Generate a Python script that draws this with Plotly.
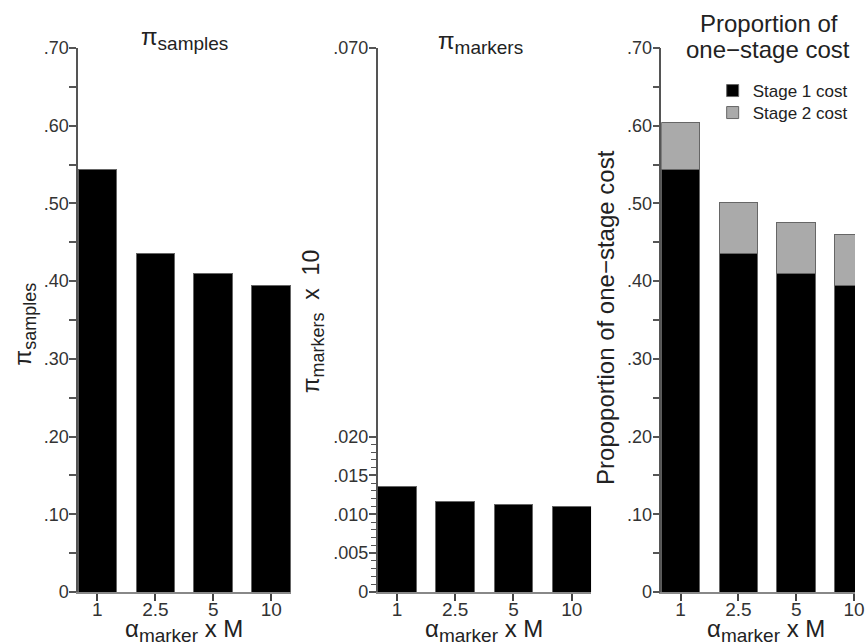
import plotly.graph_objects as go

# ---------------- data ----------------
categories = ["1", "2.5", "5", "10"]
pi_samples = [0.544, 0.436, 0.410, 0.395]
pi_markers = [0.0136, 0.0117, 0.0112, 0.0110]
stage1_cost = [0.544, 0.436, 0.410, 0.395]
stage2_cost = [0.060, 0.065, 0.065, 0.065]

prop_ticks = [0, 0.1, 0.2, 0.3, 0.4, 0.5, 0.6, 0.7]
prop_ticktext = ["0", ".10", ".20", ".30", ".40", ".50", ".60", ".70"]
prop_minor = [0.05, 0.15, 0.25, 0.35, 0.45, 0.55, 0.65]
mark_ticks = [0, 0.005, 0.010, 0.015, 0.020, 0.070]
mark_ticktext = ["0", ".005", ".010", ".015", ".020", ".070"]
mark_minor = [i / 1000 for i in range(1, 21) if i % 5 != 0]

# ---------------- layout helpers ----------------
W, H = 865, 644
ML, MR, MT, MB = 0, 0, 48, 52
FONT = "Liberation Sans, Arial, sans-serif"
TXT = "#222222"


def px(x):
    return (x) / (W - ML - MR)


def py(y):
    return (H - MB - y) / (H - MT - MB)


fig = go.Figure()

bar_line = dict(color="#666666", width=1)

fig.add_trace(go.Bar(x=categories, y=pi_samples, marker=dict(color="#000000", line=bar_line),
                     xaxis="x", yaxis="y", showlegend=False))
fig.add_trace(go.Bar(x=categories, y=pi_markers, marker=dict(color="#000000", line=bar_line),
                     xaxis="x2", yaxis="y2", showlegend=False))
fig.add_trace(go.Bar(x=categories, y=stage1_cost, name="Stage 1 cost",
                     marker=dict(color="#000000", line=bar_line),
                     xaxis="x3", yaxis="y3", legend="legend"))
fig.add_trace(go.Bar(x=categories, y=stage2_cost, name="Stage 2 cost",
                     marker=dict(color="#aaaaaa", line=bar_line),
                     xaxis="x3", yaxis="y3", legend="legend2"))

xcommon = dict(type="category", showgrid=False, zeroline=False, showline=True,
               linecolor="#888888", linewidth=1.5, ticks="outside", ticklen=7,
               tickcolor="#444444", tickwidth=1.5, ticklabelstandoff=-8,
               tickfont=dict(family=FONT, size=19, color="#333333"))
ycommon = dict(showgrid=False, zeroline=False, showline=True, linecolor="#555555",
               linewidth=1.5, ticks="outside", ticklen=7, tickcolor="#555555",
               tickwidth=1.5, tickmode="array", ticklabelstandoff=-3,
               tickfont=dict(family=FONT, size=18, color="#333333"))

leg_common = dict(xanchor="left", yanchor="top", bgcolor="rgba(0,0,0,0)",
                  font=dict(family=FONT, size=17, color=TXT))

fig.update_layout(
    width=W, height=H,
    margin=dict(l=ML, r=MR, t=MT, b=MB),
    paper_bgcolor="white", plot_bgcolor="white",
    barmode="stack", bargap=0.333,
    showlegend=True,
    legend=dict(x=px(721), y=py(73), **leg_common),
    legend2=dict(x=px(721), y=py(95), **leg_common),
    xaxis=dict(domain=[px(79), px(294)], range=[-0.333, 3.333], anchor="y", **xcommon),
    xaxis2=dict(domain=[px(382), px(598)], range=[-0.333, 3.333], anchor="y2", **xcommon),
    xaxis3=dict(domain=[px(669), 1.0], range=[-0.333, 3.017], anchor="y3", **xcommon),
    yaxis=dict(range=[0, 0.70], anchor="x", tickvals=prop_ticks, ticktext=prop_ticktext,
               minor=dict(tickmode="array", tickvals=prop_minor, ticks="outside",
                          ticklen=7, tickcolor="#555555", tickwidth=1.5), **ycommon),
    yaxis2=dict(range=[0, 0.070], anchor="x2", tickvals=mark_ticks, ticktext=mark_ticktext,
                minor=dict(tickmode="array", tickvals=mark_minor, ticks="outside",
                           ticklen=5, tickcolor="#555555", tickwidth=1.2), **ycommon),
    yaxis3=dict(range=[0, 0.70], anchor="x3", tickvals=prop_ticks, ticktext=prop_ticktext,
                minor=dict(tickmode="array", tickvals=prop_minor, ticks="outside",
                           ticklen=7, tickcolor="#555555", tickwidth=1.5), **ycommon),
)


def sub(t, size=18):
    return '<sub><span style="font-size:%dpx">%s</span></sub>' % (size, t)


ann = []


def add(text, x, y, size=22, angle=0):
    ann.append(dict(text=text, x=px(x), y=py(y), xref="paper", yref="paper",
                    xanchor="center", yanchor="middle", showarrow=False, textangle=angle,
                    font=dict(family=FONT, size=size, color=TXT)))


# panel titles
add("π" + sub("samples", 19), 187, 38, size=24)
add("π" + sub("markers", 19), 486, 42, size=24)
add("Proportion of", 778, 24, size=24)
add("one\u2212stage cost", 777, 50, size=24)

# y axis titles
add("π" + sub("samples", 18), 25, 324, size=23, angle=-90)
add("π" + sub("markers", 18) + " &nbsp;x &nbsp;10", 317, 321, size=23, angle=-90)
add("Propoportion of one\u2212stage cost", 612, 317, size=24, angle=-90)

# x axis titles
xt = "α" + sub("marker", 19) + " x M"
add(xt, 186, 630, size=24)
add(xt, 490, 630, size=24)
add(xt, 775, 630, size=24)

fig.update_layout(annotations=ann)

fig.write_html("out.html", config={"displayModeBar": False},
               post_script="document.body.style.margin='0px';")
